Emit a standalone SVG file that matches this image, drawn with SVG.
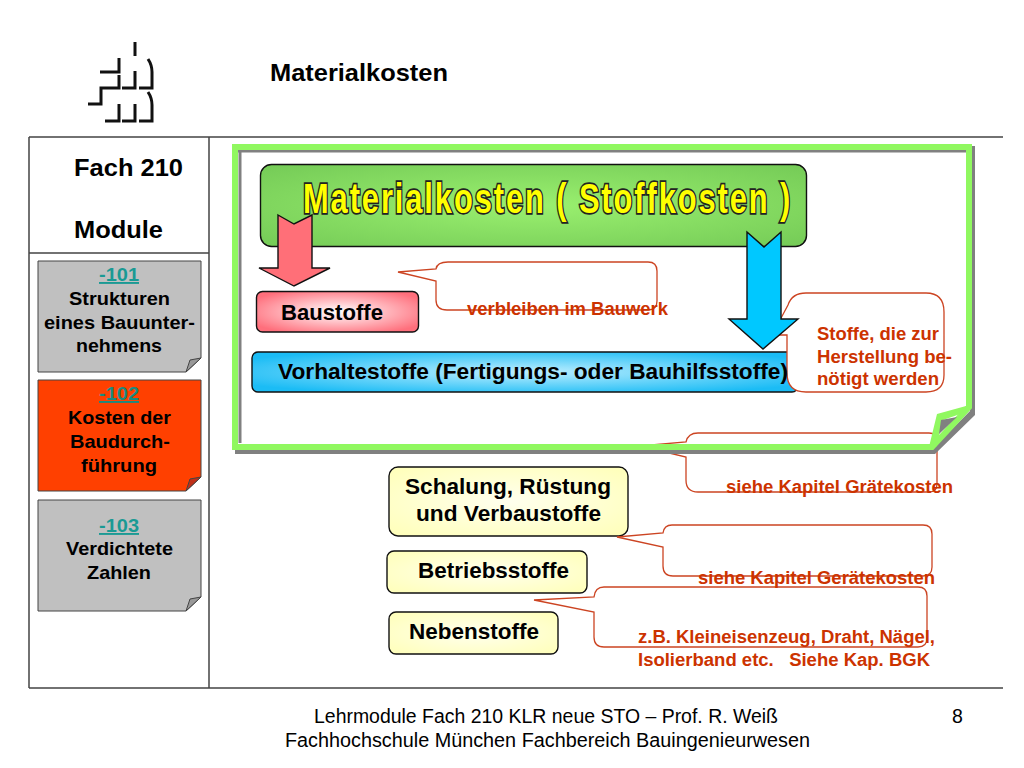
<svg xmlns="http://www.w3.org/2000/svg" width="1024" height="768" viewBox="0 0 1024 768">
<style>
text{font-family:"Liberation Sans",Arial,sans-serif}
.b{font-weight:bold;fill:#000}
.t20{font-size:22px}
.t18{font-size:19px}
.lnk{font-size:19px;font-weight:bold;fill:#1a9a94;text-decoration:underline}
.red{font-size:17.500px;font-weight:bold;fill:#cc3300}
.call{fill:#fff;stroke:#cc4422;stroke-width:1.3}
.callo{fill:none;stroke:#cc4422;stroke-width:1.3}
.box{stroke:#111;stroke-width:1.4}
.note{stroke:#444;stroke-width:1}
.logo{fill:none;stroke:#111;stroke-width:3}
.rule{stroke:#444;stroke-width:1.5;fill:none}
</style>
<defs>
<radialGradient id="gG" cx=".5" cy=".5" r=".75"><stop offset="0" stop-color="#9af06f"/><stop offset="1" stop-color="#72c855"/></radialGradient>
<radialGradient id="gR" cx=".5" cy=".5" r=".6"><stop offset="0" stop-color="#fff"/><stop offset="1" stop-color="#ff6f7c"/></radialGradient>
<radialGradient id="gB" cx=".5" cy=".5" r=".6"><stop offset="0" stop-color="#bdeeff"/><stop offset="1" stop-color="#1bbcf5"/></radialGradient>
<radialGradient id="gY" cx=".5" cy=".5" r=".7"><stop offset="0" stop-color="#ffffee"/><stop offset="1" stop-color="#ffffb8"/></radialGradient>
</defs>
<rect width="1024" height="768" fill="#fff"/>
<g id="logo" class="logo">
<path d="M135 42V56"/>
<path d="M100 72H119V58"/>
<path d="M88 104H101V88H119V75"/>
<path d="M122 88H135V71"/>
<path d="M139 88H152V72Q152 65 148 59"/>
<path d="M105 121H119V104"/>
<path d="M122 121H135V104"/>
<path d="M139 121H152V105Q152 98 148 92"/>
</g>
<text id="title" x="270" y="81" class="b" font-size="24" textLength="178" lengthAdjust="spacingAndGlyphs">Materialkosten</text>
<g id="layout" class="rule">
<path d="M29 137H1003M29 688H1003M29 137V688M209 137V688M29 253H209"/>
</g>
<text id="fach" x="74" y="176" class="b" font-size="24.500" textLength="109" lengthAdjust="spacingAndGlyphs">Fach 210</text>
<text id="module" x="74" y="238" class="b" font-size="24.500" textLength="89" lengthAdjust="spacingAndGlyphs">Module</text>
<g id="m101">
<path class="note" fill="#c0c0c0" d="M38 261H201V358L186 372H38Z"/>
<path class="note" fill="#999" d="M186 372L190 360L201 358Z"/>
<text x="99" y="281" class="lnk" textLength="40" lengthAdjust="spacingAndGlyphs">-101</text>
<text x="69" y="305" class="b t18" textLength="101" lengthAdjust="spacingAndGlyphs">Strukturen</text>
<text x="44" y="329" class="b t18" textLength="151" lengthAdjust="spacingAndGlyphs">eines Bauunter-</text>
<text x="76" y="352" class="b t18" textLength="86" lengthAdjust="spacingAndGlyphs">nehmens</text>
</g>
<g id="m102">
<path class="note" fill="#ff4000" d="M38 380H201V477L186 491H38Z"/>
<path class="note" fill="#c03018" d="M186 491L190 479L201 477Z"/>
<text x="99" y="400" class="lnk" style="fill:#1a8a80" textLength="40" lengthAdjust="spacingAndGlyphs">-102</text>
<text x="68" y="424" class="b t18" textLength="103" lengthAdjust="spacingAndGlyphs">Kosten der</text>
<text x="70" y="448" class="b t18" textLength="100" lengthAdjust="spacingAndGlyphs">Baudurch-</text>
<text x="81" y="472" class="b t18" textLength="76" lengthAdjust="spacingAndGlyphs">führung</text>
</g>
<g id="m103">
<path class="note" fill="#c0c0c0" d="M38 500H201V597L186 611H38Z"/>
<path class="note" fill="#999" d="M186 611L190 599L201 597Z"/>
<text x="99" y="532" class="lnk" textLength="40" lengthAdjust="spacingAndGlyphs">-103</text>
<text x="66" y="555" class="b t18" textLength="107" lengthAdjust="spacingAndGlyphs">Verdichtete</text>
<text x="87" y="579" class="b t18" textLength="64" lengthAdjust="spacingAndGlyphs">Zahlen</text>
</g>
<g id="callout3">
<path class="call" d="M698 433H929Q937 433 937 441V484Q937 492 929 492H698Q686 492 686 480V457L640 446L686 442Q688 433 698 433Z"/>
</g>
<g id="frame">
<path fill="none" stroke="#808080" stroke-width="3" d="M240 152V443"/>
<path fill="none" stroke="#808080" stroke-width="3" d="M238 151H966"/>
<path fill="#808080" d="M235 449H932L970 411V146H975V415L935 454H235Z"/>
<path fill="none" stroke="#90f860" stroke-width="6" d="M235 147H969V407L932 447H235Z"/>
<path fill="#90f860" d="M966 406L937 414L929 447L936 447L943 420L966 412Z"/>
<path fill="#808080" d="M941 420L957 417L939 434Z"/>
</g>
<g id="connectors">
<path class="call" d="M448 262H648Q657 262 657 271V301Q657 310 648 310H447Q436 310 436 300V281L398 272L436 269Q437 262 448 262Z"/>
</g>
<g id="header">
<rect class="box" x="260.500" y="164.500" width="546" height="82" rx="11" fill="url(#gG)"/>
<text x="0" y="0" transform="translate(303 213) scale(1.1 1.52)" font-size="28" font-weight="bold" fill="#ffff00" stroke="#222" stroke-width="2.2" paint-order="stroke" textLength="443" lengthAdjust="spacing">Materialkosten ( Stoffkosten )</text>
</g>
<g id="baustoffe">
<rect class="box" x="256.500" y="291.500" width="162" height="40.500" rx="6" fill="url(#gR)"/>
<text x="281" y="320" class="b t20" textLength="102" lengthAdjust="spacingAndGlyphs">Baustoffe</text>
</g>
<g id="vorhalte">
<rect class="box" x="252" y="352" width="546" height="40" rx="6" fill="url(#gB)"/>
</g>
<g id="callout2">
<path class="call" d="M806 293H926Q944 293 944 312V375Q944 392 926 392H806Q787 392 787 373V335H772L788 305Q792 293 806 293Z"/>
<text x="817" y="340" class="red" textLength="122" lengthAdjust="spacingAndGlyphs">Stoffe, die zur</text>
<text x="817" y="363" class="red" textLength="135" lengthAdjust="spacingAndGlyphs">Herstellung be-</text>
<text x="817" y="385" class="red" textLength="122" lengthAdjust="spacingAndGlyphs">nötigt werden</text>
</g>
<text id="vorhalte-label" x="278" y="379" class="b t20" textLength="510" lengthAdjust="spacingAndGlyphs">Vorhaltestoffe (Fertigungs- oder Bauhilfsstoffe)</text>
<g id="arrow-red"><path class="box" fill="#ff6f78" d="M278 215L294 224L312 215V268H330L294 286L259 268H278Z"/></g>
<g id="arrow-blue"><path class="box" fill="#00c8ff" d="M747 232L764 247L781 232V319H798L763 349L729 319H747Z"/></g>
<g id="schalung">
<rect class="box" x="389" y="467" width="239" height="69" rx="9" fill="url(#gY)"/>
<text x="405" y="494" class="b t20" textLength="206" lengthAdjust="spacingAndGlyphs">Schalung, Rüstung</text>
<text x="416" y="521" class="b t20" textLength="185" lengthAdjust="spacingAndGlyphs">und Verbaustoffe</text>
</g>
<g id="betrieb">
<rect class="box" x="387" y="551" width="200" height="42" rx="7" fill="url(#gY)"/>
<text x="418" y="578" class="b t20" textLength="151" lengthAdjust="spacingAndGlyphs">Betriebsstoffe</text>
</g>
<g id="neben">
<rect class="box" x="389" y="612" width="169" height="42" rx="7" fill="url(#gY)"/>
<text x="409" y="639" class="b t20" textLength="130" lengthAdjust="spacingAndGlyphs">Nebenstoffe</text>
</g>
<g id="callouts-lower">
<path class="callo" d="M672 525H923Q932 525 932 534V567Q932 576 923 576H673Q663 576 663 566V547L617 537L663 533Q664 525 672 525Z"/>
<path class="callo" d="M604 587H918Q927 587 927 596V638Q927 647 918 647H604Q594 647 594 637V612L534 600L594 597Q595 587 604 587Z"/>
</g>
<g id="callout-texts">
<text x="467" y="315" class="red" textLength="201" lengthAdjust="spacingAndGlyphs">verbleiben im Bauwerk</text>
<text x="726" y="493" class="red" textLength="227" lengthAdjust="spacingAndGlyphs">siehe Kapitel Grätekosten</text>
<text x="698" y="584" class="red" textLength="237" lengthAdjust="spacingAndGlyphs">siehe Kapitel Gerätekosten</text>
<text x="638" y="643" class="red" textLength="297" lengthAdjust="spacingAndGlyphs">z.B. Kleineisenzeug, Draht, Nägel,</text>
<text x="638" y="666" class="red" textLength="292" lengthAdjust="spacingAndGlyphs">Isolierband etc.&#160;&#160; Siehe Kap. BGK</text>
</g>
<g id="footer" font-size="19.500" fill="#000">
<text x="314" y="723" textLength="464" lengthAdjust="spacingAndGlyphs">Lehrmodule Fach 210 KLR neue STO – Prof. R. Weiß</text>
<text x="285" y="747" textLength="525" lengthAdjust="spacingAndGlyphs">Fachhochschule München Fachbereich Bauingenieurwesen</text>
<text x="952" y="723">8</text>
</g>
</svg>
